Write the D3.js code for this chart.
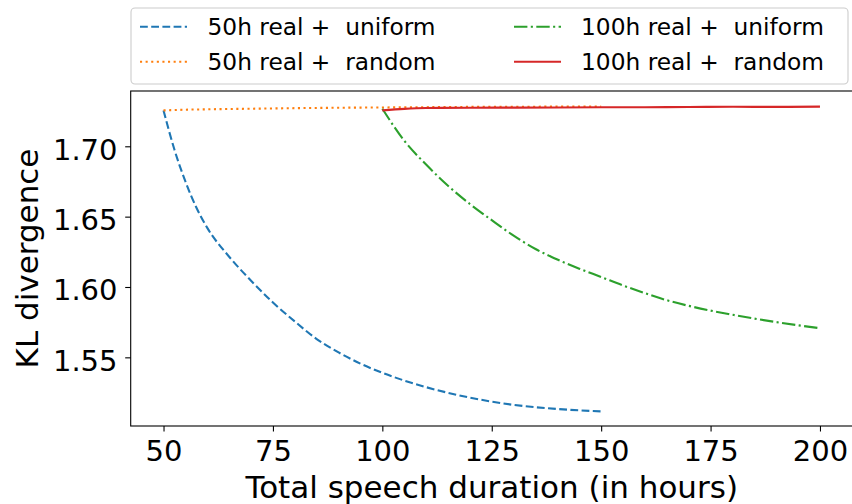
<!DOCTYPE html>
<html>
<head>
<meta charset="utf-8">
<script src="https://cdn.jsdelivr.net/npm/d3@7"></script>
<style>
  html, body { margin: 0; padding: 0; background: #fff; }
  svg { display: block; font-family: "DejaVu Sans", sans-serif; }
  text { white-space: pre; }
</style>
</head>
<body>
<svg id="chart" width="852" height="504"></svg>
<script>
// Hours of speech (x) and KL divergence (y) for each series
const hours50Uniform = [50, 52.5, 55, 57.5, 60, 65, 70, 75, 80, 85, 90, 95, 100, 105, 110, 115, 120, 125, 130, 135, 140, 145, 150];
const kl50Uniform = [1.7255, 1.6975, 1.675, 1.6565, 1.642, 1.6215, 1.6045, 1.589, 1.5755, 1.563, 1.5535, 1.5455, 1.539, 1.5335, 1.5288, 1.5248, 1.5214, 1.5185, 1.5162, 1.51455, 1.5133, 1.5123, 1.51155];

const hours50Random = [50, 55, 60, 70, 80, 90, 100, 110, 120, 130, 140, 150];
const kl50Random = [1.7255, 1.7260, 1.7263, 1.7267, 1.7271, 1.7274, 1.7276, 1.7278, 1.7280, 1.7281, 1.7282, 1.7283];

const hours100Uniform = [100, 105, 110, 115, 120, 125, 130, 135, 140, 145, 150, 155, 160, 165, 170, 175, 180, 185, 190, 195, 200];
const kl100Uniform = [1.7267, 1.7040, 1.6870, 1.6720, 1.6590, 1.6475, 1.6365, 1.627, 1.6195, 1.613, 1.6071, 1.6011, 1.5956, 1.5906, 1.5866, 1.5832, 1.5803, 1.57755, 1.57505, 1.5728, 1.5707];

const hours100Random = [100, 105, 110, 120, 130, 140, 150, 160, 170, 180, 190, 200];
const kl100Random = [1.7255, 1.7266, 1.7272, 1.7274, 1.7275, 1.7276, 1.7277, 1.7278, 1.7279, 1.7281, 1.7280, 1.7282];

const seriesLabels = ["50h real +  uniform", "50h real +  random", "100h real +  uniform", "100h real +  random"];
const xTicks = [50, 75, 100, 125, 150, 175, 200];
const yTicks = [1.55, 1.60, 1.65, 1.70];
const xTitle = "Total speech duration (in hours)";
const yTitle = "KL divergence";

const series = [
  { name: seriesLabels[0], xs: hours50Uniform, ys: kl50Uniform, color: "#1f77b4", dash: "7.8,3.4" },
  { name: seriesLabels[1], xs: hours50Random, ys: kl50Random, color: "#ff7f0e", dash: "2.1,3.5" },
  { name: seriesLabels[2], xs: hours100Uniform, ys: kl100Uniform, color: "#2ca02c", dash: "13.4,3.4,2.1,3.4" },
  { name: seriesLabels[3], xs: hours100Random, ys: kl100Random, color: "#d62728", dash: null }
];

const svg = d3.select("#chart");
const plot = { left: 130.7, right: 852.8, top: 91, bottom: 426 };

const x = d3.scaleLinear().domain([42.5, 207.5]).range([plot.left, plot.right]);
const y = d3.scaleLinear().domain([1.5012, 1.7393]).range([plot.bottom, plot.top]);

// Lines (smooth monotone curve through the sampled values)
const line = d3.line().curve(d3.curveMonotoneX).x(d => x(d[0])).y(d => y(d[1]));
series.forEach(s => {
  const pts = s.xs.map((h, i) => [h, s.ys[i]]);
  svg.append("path")
    .datum(pts)
    .attr("d", line)
    .attr("fill", "none")
    .attr("stroke", s.color)
    .attr("stroke-width", 2.1)
    .attr("stroke-linecap", "butt")
    .attr("stroke-dasharray", s.dash);
});

// Axes
const xAxis = d3.axisBottom(x).tickValues(xTicks).tickSize(5.5).tickPadding(7).tickFormat(d3.format("d"));
const yAxis = d3.axisLeft(y).tickValues(yTicks).tickSize(5.5).tickPadding(7).tickFormat(d3.format(".2f"));

const gx = svg.append("g").attr("transform", `translate(0,${plot.bottom})`).call(xAxis);
const gy = svg.append("g").attr("transform", `translate(${plot.left},0)`).call(yAxis);

[gx, gy].forEach(g => {
  g.select(".domain").remove();
  g.selectAll(".tick line").attr("stroke", "#000").attr("stroke-width", 1.1);
  g.selectAll(".tick text").attr("fill", "#000").style("font-size", "29px").style("font-family", "DejaVu Sans");
});
gx.selectAll(".tick text").attr("dy", null).attr("y", 35);
gy.selectAll(".tick text").attr("dy", null).attr("y", 13).attr("x", -13.2);

// Frame
svg.append("rect")
  .attr("x", plot.left).attr("y", plot.top)
  .attr("width", plot.right - plot.left).attr("height", plot.bottom - plot.top)
  .attr("fill", "none").attr("stroke", "#000").attr("stroke-width", 1.1);

// Axis titles
svg.append("text")
  .attr("x", (plot.left + plot.right) / 2).attr("y", 498)
  .attr("text-anchor", "middle")
  .style("font-size", "31px")
  .text(xTitle);

svg.append("text")
  .attr("transform", `translate(37.5,${(plot.top + plot.bottom) / 2}) rotate(-90)`)
  .attr("text-anchor", "middle")
  .style("font-size", "31px")
  .text(yTitle);

// Legend
const legend = svg.append("g");
legend.append("rect")
  .attr("x", 131).attr("y", 8).attr("width", 717).attr("height", 76)
  .attr("rx", 4).attr("ry", 4)
  .attr("fill", "#fff").attr("fill-opacity", 0.8)
  .attr("stroke", "#cccccc").attr("stroke-width", 1.1);

const colX = [{ h0: 140, h1: 187, t: 207.5 }, { h0: 514, h1: 561, t: 581 }];
const rowY = [26.7, 61.7];
series.forEach((s, i) => {
  const c = colX[Math.floor(i / 2)];
  const ry = rowY[i % 2];
  legend.append("line")
    .attr("x1", c.h0).attr("x2", c.h1).attr("y1", ry).attr("y2", ry)
    .attr("stroke", s.color).attr("stroke-width", 2.1)
    .attr("stroke-dasharray", s.dash);
  legend.append("text")
    .attr("x", c.t).attr("y", ry + 8.6)
    .style("font-size", "23.3px")
    .text(s.name);
});
</script>
</body>
</html>
